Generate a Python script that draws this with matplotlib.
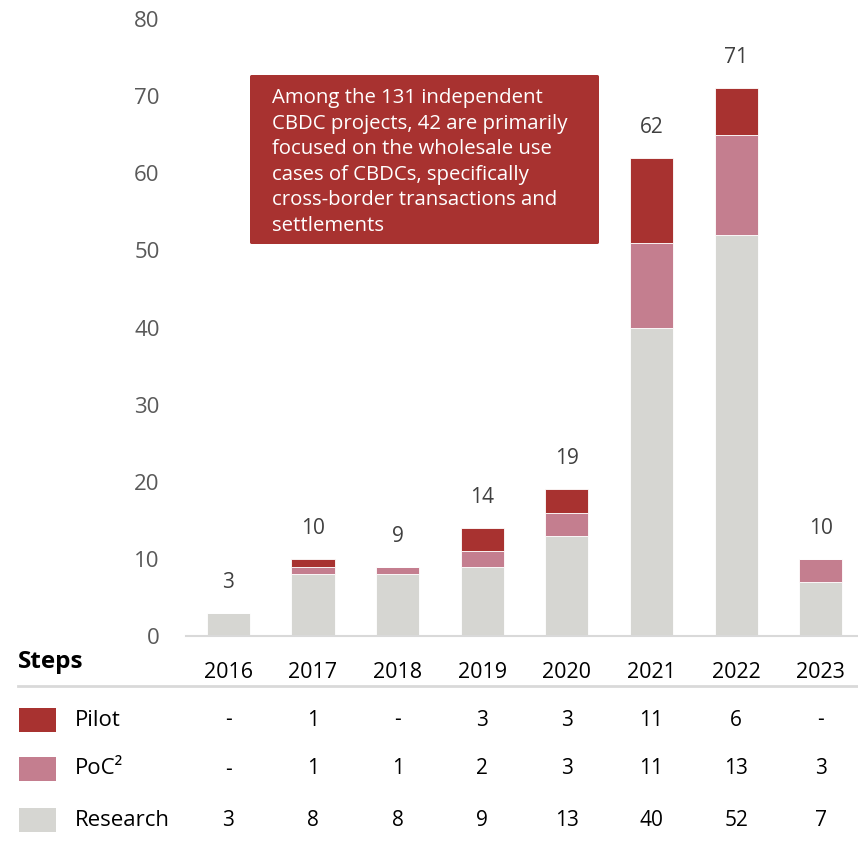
import matplotlib
matplotlib.use("Agg")
import matplotlib.pyplot as plt
import matplotlib.transforms as mtransforms
from matplotlib.patches import Rectangle, FancyBboxPatch

plt.rcParams['font.family'] = ['Open Sans', 'DejaVu Sans']

years = ['2016', '2017', '2018', '2019', '2020', '2021', '2022', '2023']
research = [3, 8, 8, 9, 13, 40, 52, 7]
poc = [0, 1, 1, 2, 3, 11, 13, 3]
pilot = [0, 1, 0, 3, 3, 11, 6, 0]
series_names = ['Pilot', 'PoC²', 'Research']
yticks = [0, 10, 20, 30, 40, 50, 60, 70, 80]
note = ("Among the 131 independent\nCBDC projects, 42 are primarily\n"
        "focused on the wholesale use\ncases of CBDCs, specifically\n"
        "cross-border transactions and\nsettlements")

c_pilot = '#A83230'
c_poc = '#C47E8F'
c_res = '#D6D6D2'

W, H = 858, 849
fig = plt.figure(figsize=(W / 100, H / 100), dpi=100)
ax = fig.add_axes([186 / W, 1 - 636 / H, 1 - 186 / W, (636 - 19) / H])

x = list(range(len(years)))
bw = 0.51
ax.bar(x, research, bw, color=c_res, edgecolor='white', linewidth=0.6)
ax.bar(x, poc, bw, bottom=research, color=c_poc, edgecolor='white', linewidth=0.6)
b2 = [r + p for r, p in zip(research, poc)]
ax.bar(x, pilot, bw, bottom=b2, color=c_pilot, edgecolor='white', linewidth=0.6)

totals = [a + b for a, b in zip(b2, pilot)]
for xi, t in zip(x, totals):
    ax.annotate(str(t), (xi, t), xytext=(0, 22), textcoords='offset points',
                ha='center', va='center', fontsize=15, color='#404040')

ax.set_xlim(-0.5, 7.44)
ax.set_ylim(0, 80)
ax.set_yticks(yticks)
ax.set_yticklabels([str(v) for v in yticks], fontsize=16, color='#595959')
ax.tick_params(axis='y', length=0, pad=19)
ax.set_xticks([])
for s in ['top', 'right', 'left']:
    ax.spines[s].set_visible(False)
ax.spines['bottom'].set_color('#D9D9D9')
ax.spines['bottom'].set_linewidth(1.5)

# annotation box
bx0, by0, bx1, by1 = 250, 75, 599, 244
box = FancyBboxPatch((bx0 / W, 1 - by1 / H), (bx1 - bx0) / W, (by1 - by0) / H,
                     boxstyle='round,pad=0,rounding_size=0.002',
                     transform=fig.transFigure, facecolor=c_pilot, edgecolor='none')
fig.patches.append(box)
fig.text(272 / W, 1 - 88 / H, note, ha='left', va='top', color='white',
         fontsize=14.7, linespacing=1.37)

# table
trans = mtransforms.blended_transform_factory(ax.transData, fig.transFigure)
fig.text(18 / W, 1 - 662 / H, 'Steps', ha='left', va='center', fontsize=17.5,
         fontweight='bold', color='black')
for xi, yr in zip(x, years):
    fig.text(xi, 1 - 672 / H, yr, transform=trans, ha='center', va='center',
             fontsize=15.5, color='black')
fig.add_artist(plt.Line2D([18 / W, 1], [1 - 686 / H, 1 - 686 / H],
                          transform=fig.transFigure, color='#D9D9D9', lw=2))

rows = [pilot, poc, research]
colors = [c_pilot, c_poc, c_res]
row_y = [720, 769, 820]
for name, vals, col, ry in zip(series_names, rows, colors, row_y):
    fig.patches.append(Rectangle((19 / W, 1 - (ry + 12) / H), 37 / W, 24 / H,
                                 transform=fig.transFigure, facecolor=col,
                                 edgecolor='none'))
    fig.text(75 / W, 1 - ry / H, name, ha='left', va='center', fontsize=16,
             color='black')
    for xi, v in zip(x, vals):
        fig.text(xi, 1 - ry / H, str(v) if v else '-', transform=trans,
                 ha='center', va='center', fontsize=15, color='black')

fig.savefig('out.png', dpi=100)
